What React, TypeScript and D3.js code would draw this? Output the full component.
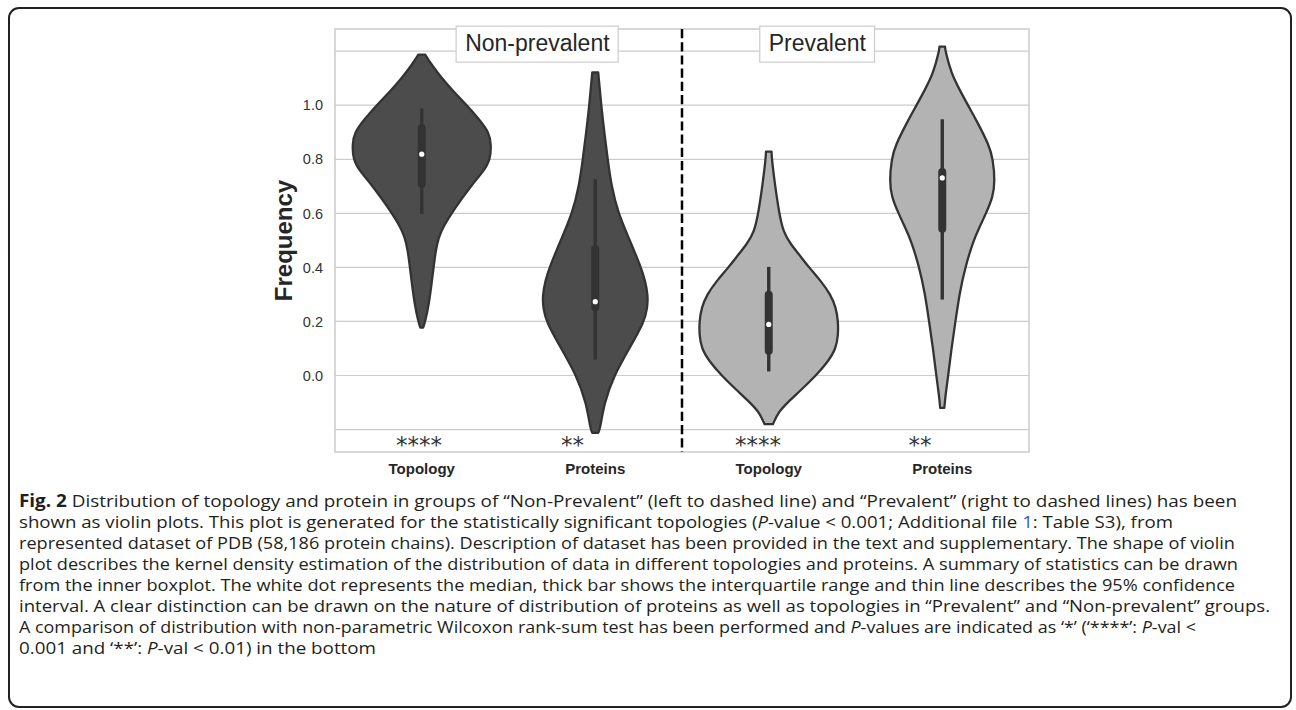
import { useEffect, useRef } from "react";
import * as d3 from "d3";

const categories = ["Topology", "Proteins", "Topology", "Proteins"];
const groupLabels = ["Non-prevalent", "Prevalent"];
const groupLabelX = [0.25, 2.0];
const groupLabelY = 1.2;
const splitAt = 1.5;

// violin outlines, read top to bottom: Frequency value and relative density (1 = widest)
const npTopologyValues = [1.187, 1.15, 1.1, 1.05, 1.0, 0.95, 0.9, 0.855, 0.8, 0.755, 0.705, 0.655, 0.6, 0.555, 0.51, 0.46, 0.4, 0.335, 0.26, 0.2, 0.177];
const npTopologyDensity = [0.05, 0.14, 0.29, 0.46, 0.65, 0.82, 0.97, 1.0, 0.99, 0.89, 0.72, 0.58, 0.43, 0.32, 0.24, 0.2, 0.17, 0.14, 0.1, 0.05, 0.02];

const npProteinsValues = [1.121, 1.0, 0.9, 0.8, 0.705, 0.6, 0.505, 0.4, 0.35, 0.295, 0.25, 0.2, 0.1, 0.0, -0.1, -0.2, -0.212];
const npProteinsDensity = [0.043, 0.086, 0.13, 0.18, 0.23, 0.33, 0.49, 0.66, 0.72, 0.76, 0.75, 0.71, 0.49, 0.27, 0.13, 0.068, 0.043];

const pTopologyValues = [0.828, 0.8, 0.705, 0.6, 0.53, 0.485, 0.45, 0.4, 0.35, 0.3, 0.25, 0.2, 0.15, 0.1, 0.05, 0.0, -0.05, -0.1, -0.135, -0.18];
const pTopologyDensity = [0.04, 0.045, 0.09, 0.15, 0.21, 0.32, 0.43, 0.58, 0.75, 0.89, 0.97, 1.0, 1.0, 0.97, 0.85, 0.68, 0.48, 0.27, 0.14, 0.06];

const pProteinsValues = [1.217, 1.2, 1.118, 1.057, 1.0, 0.945, 0.85, 0.8, 0.72, 0.66, 0.6, 0.55, 0.5, 0.4, 0.305, 0.2, 0.095, 0.0, -0.08, -0.12];
const pProteinsDensity = [0.04, 0.045, 0.13, 0.25, 0.37, 0.49, 0.68, 0.73, 0.76, 0.73, 0.63, 0.54, 0.45, 0.33, 0.25, 0.19, 0.13, 0.086, 0.043, 0.03];

// inner boxplot: [whisker low, q1, median, q3, whisker high]
const npTopologyBox = [0.598, 0.695, 0.819, 0.93, 0.988];
const npProteinsBox = [0.059, 0.238, 0.273, 0.483, 0.726];
const pTopologyBox = [0.015, 0.077, 0.189, 0.314, 0.402];
const pProteinsBox = [0.281, 0.528, 0.731, 0.768, 0.948];

const violinFills = ["#4c4c4c", "#4c4c4c", "#b3b3b3", "#b3b3b3"];

const stars = ["****", "**", "****", "**"];
const starX = [-0.016, 0.869, 1.938, 2.872];
const starY = -0.242;

const gridValues = [-0.2, 0, 0.2, 0.4, 0.6, 0.8, 1.0, 1.2];
const tickValues = [0, 0.2, 0.4, 0.6, 0.8, 1.0];

const captionLines = [
  "<b>Fig. 2</b> Distribution of topology and protein in groups of “Non-Prevalent” (left to dashed line) and “Prevalent” (right to dashed lines) has been",
  "shown as violin plots. This plot is generated for the statistically significant topologies (<i>P</i>-value < 0.001; Additional file <a>1</a>: Table S3), from",
  "represented dataset of PDB (58,186 protein chains). Description of dataset has been provided in the text and supplementary. The shape of violin",
  "plot describes the kernel density estimation of the distribution of data in different topologies and proteins. A summary of statistics can be drawn",
  "from the inner boxplot. The white dot represents the median, thick bar shows the interquartile range and thin line describes the 95% confidence",
  "interval. A clear distinction can be drawn on the nature of distribution of proteins as well as topologies in “Prevalent” and “Non-prevalent” groups.",
  "A comparison of distribution with non-parametric Wilcoxon rank-sum test has been performed and <i>P</i>-values are indicated as ‘*’ (‘****’: <i>P</i>-val <",
  "0.001 and ‘**’: <i>P</i>-val < 0.01) in the bottom",
];
const captionWidths = [1218, 1154, 1216, 1219, 1216, 1251, 1177, 357];

function segments(line: string) {
  return line
    .split(/(<[bia]>.*?<\/[bia]>)/)
    .filter((s) => s.length > 0)
    .map((s) => {
      const m = s.match(/^<([bia])>(.*)<\/\1>$/);
      return m ? { text: m[2], kind: m[1] } : { text: s, kind: "" };
    });
}

export default function App() {
  const svgRef = useRef<SVGSVGElement>(null);

  useEffect(() => {
    if (!svgRef.current) return;
    const svg = d3.select(svgRef.current);
    svg.selectAll("*").remove();

    const width = 1296;
    const height = 710;
    const plot = { left: 335, right: 1029, top: 29, bottom: 452 };
    const font = "Liberation Sans, Arial, sans-serif";

    svg.attr("width", width).attr("height", height);

    // outer frame
    svg
      .append("rect")
      .attr("x", 9)
      .attr("y", 8)
      .attr("width", 1282)
      .attr("height", 699)
      .attr("rx", 10)
      .attr("fill", "#fff")
      .attr("stroke", "#222")
      .attr("stroke-width", 2);

    const x = d3
      .scaleBand<number>()
      .domain(categories.map((_, i) => i))
      .range([plot.left, plot.right]);
    const xPos = d3
      .scaleLinear()
      .domain([-0.5, categories.length - 0.5])
      .range([plot.left, plot.right]);
    const y = d3.scaleLinear().domain([-0.283, 1.282]).range([plot.bottom, plot.top]);
    const w = d3.scaleLinear().domain([0, 1]).range([0, (x.bandwidth() * 0.8) / 2]);

    const g = svg.append("g");

    // grid
    g.selectAll("line.grid")
      .data(gridValues)
      .join("line")
      .attr("x1", plot.left)
      .attr("x2", plot.right)
      .attr("y1", (d) => y(d))
      .attr("y2", (d) => y(d))
      .attr("stroke", "#cccccc")
      .attr("stroke-width", 1.2);

    // frame of axes
    g.append("rect")
      .attr("x", plot.left)
      .attr("y", plot.top)
      .attr("width", plot.right - plot.left)
      .attr("height", plot.bottom - plot.top)
      .attr("fill", "none")
      .attr("stroke", "#cccccc")
      .attr("stroke-width", 1.5);

    // y tick labels
    g.selectAll("text.ytick")
      .data(tickValues)
      .join("text")
      .attr("x", plot.left - 12)
      .attr("y", (d) => y(d))
      .attr("dy", "0.36em")
      .attr("text-anchor", "end")
      .attr("font-family", font)
      .attr("font-size", 14.5)
      .attr("fill", "#333")
      .text((d) => d3.format(".1f")(d));

    g.append("text")
      .attr("transform", `translate(${292},${(plot.top + plot.bottom) / 2}) rotate(-90)`)
      .attr("text-anchor", "middle")
      .attr("font-family", font)
      .attr("font-weight", "bold")
      .attr("font-size", 24)
      .attr("fill", "#262626")
      .text("Frequency");

    // x labels
    g.selectAll("text.xtick")
      .data(categories)
      .join("text")
      .attr("x", (_, i) => (x(i) ?? 0) + x.bandwidth() / 2)
      .attr("y", 473.5)
      .attr("text-anchor", "middle")
      .attr("font-family", font)
      .attr("font-weight", "bold")
      .attr("font-size", 15)
      .attr("fill", "#262626")
      .text((d) => d);

    // violins
    const outlines = [
      [npTopologyValues, npTopologyDensity],
      [npProteinsValues, npProteinsDensity],
      [pTopologyValues, pTopologyDensity],
      [pProteinsValues, pProteinsDensity],
    ];
    const boxes = [npTopologyBox, npProteinsBox, pTopologyBox, pProteinsBox];

    outlines.forEach(([vals, dens], i) => {
      const cx = (x(i) ?? 0) + x.bandwidth() / 2;
      const pts = vals.map((v, k) => [v, dens[k]] as [number, number]);
      const area = d3
        .area<[number, number]>()
        .y((d) => y(d[0]))
        .x0((d) => cx - w(d[1]))
        .x1((d) => cx + w(d[1]))
        .curve(d3.curveBasis);

      g.append("path")
        .datum(pts)
        .attr("d", area)
        .attr("fill", violinFills[i])
        .attr("stroke", "#333")
        .attr("stroke-width", 2.3)
        .attr("stroke-linejoin", "round");

      const [lo, q1, med, q3, hi] = boxes[i];
      g.append("line")
        .attr("x1", cx)
        .attr("x2", cx)
        .attr("y1", y(lo))
        .attr("y2", y(hi))
        .attr("stroke", "#333")
        .attr("stroke-width", 3.4);
      g.append("rect")
        .attr("x", cx - 4)
        .attr("width", 8)
        .attr("y", y(q3))
        .attr("height", y(q1) - y(q3))
        .attr("rx", 4)
        .attr("fill", "#333");
      g.append("circle")
        .attr("cx", cx)
        .attr("cy", y(med))
        .attr("r", 2.6)
        .attr("fill", "#fff");
    });

    // split line
    g.append("line")
      .attr("x1", xPos(splitAt))
      .attr("x2", xPos(splitAt))
      .attr("y1", plot.top)
      .attr("y2", plot.bottom)
      .attr("stroke", "#000")
      .attr("stroke-width", 2.5)
      .attr("stroke-dasharray", "9.2,4");

    // group labels with boxes
    groupLabels.forEach((label, i) => {
      const lg = g.append("g");
      const rect = lg.append("rect");
      const t = lg
        .append("text")
        .attr("x", xPos(groupLabelX[i]))
        .attr("y", y(groupLabelY))
        .attr("font-family", font)
        .attr("font-size", 23)
        .attr("fill", "#262626")
        .text(label);
      const bb = (t.node() as SVGTextElement).getBBox();
      rect
        .attr("x", bb.x - 9)
        .attr("y", bb.y - 4)
        .attr("width", bb.width + 17)
        .attr("height", bb.height + 10)
        .attr("fill", "#fff")
        .attr("stroke", "#cccccc")
        .attr("stroke-width", 1.2);
    });

    // significance stars
    g.selectAll("text.star")
      .data(stars)
      .join("text")
      .attr("x", (_, i) => xPos(starX[i]))
      .attr("y", y(starY) + 0.53 * 23)
      .attr("text-anchor", "middle")
      .attr("font-family", "DejaVu Sans, sans-serif")
      .attr("font-size", 23)
      .attr("fill", "#333")
      .text((d) => d);

    // caption
    const cap = svg.append("g");
    captionLines.forEach((line, i) => {
      const t = cap
        .append("text")
        .attr("x", 19)
        .attr("y", 507 + i * 21)
        .attr("font-family", "Open Sans, Noto Sans, sans-serif")
        .attr("font-size", 17)
        .attr("fill", "#231f20")
        .attr("textLength", captionWidths[i])
        .attr("lengthAdjust", "spacingAndGlyphs")
        .style("white-space", "pre");
      segments(line).forEach((s) => {
        const ts = t.append("tspan").text(s.text);
        if (s.kind === "b") ts.attr("font-weight", "bold");
        if (s.kind === "i") ts.attr("font-style", "italic");
        if (s.kind === "a") ts.attr("fill", "#2f5bd6");
      });
    });
  }, []);

  return (
    <svg
      ref={svgRef}
      style={{ position: "absolute", left: 0, top: 0, display: "block" }}
    />
  );
}
